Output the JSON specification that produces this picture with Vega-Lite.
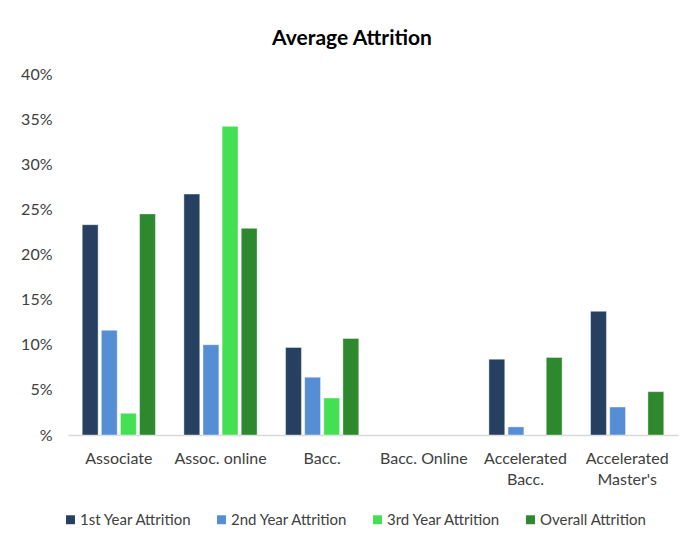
{
  "$schema": "https://vega.github.io/schema/vega-lite/v6.json",
  "autosize": "none",
  "width": 610,
  "height": 361,
  "padding": {"left": 68, "top": 74, "right": 13, "bottom": 109},
  "background": "white",
  "title": {
    "text": "Average Attrition",
    "font": "Lato",
    "fontSize": 21,
    "fontWeight": "bold",
    "color": "#000000",
    "anchor": "middle",
    "dx": -21,
    "offset": 17
  },
  "data": {
    "values": [
      {"program": "Associate", "series": "1st Year Attrition", "value": 0.233},
      {"program": "Associate", "series": "2nd Year Attrition", "value": 0.116},
      {"program": "Associate", "series": "3rd Year Attrition", "value": 0.024},
      {"program": "Associate", "series": "Overall Attrition", "value": 0.245},
      {"program": "Assoc. online", "series": "1st Year Attrition", "value": 0.267},
      {"program": "Assoc. online", "series": "2nd Year Attrition", "value": 0.100},
      {"program": "Assoc. online", "series": "3rd Year Attrition", "value": 0.342},
      {"program": "Assoc. online", "series": "Overall Attrition", "value": 0.229},
      {"program": "Bacc.", "series": "1st Year Attrition", "value": 0.097},
      {"program": "Bacc.", "series": "2nd Year Attrition", "value": 0.064},
      {"program": "Bacc.", "series": "3rd Year Attrition", "value": 0.041},
      {"program": "Bacc.", "series": "Overall Attrition", "value": 0.107},
      {"program": "Accelerated Bacc.", "series": "1st Year Attrition", "value": 0.084},
      {"program": "Accelerated Bacc.", "series": "2nd Year Attrition", "value": 0.009},
      {"program": "Accelerated Bacc.", "series": "Overall Attrition", "value": 0.086},
      {"program": "Accelerated Master's", "series": "1st Year Attrition", "value": 0.137},
      {"program": "Accelerated Master's", "series": "2nd Year Attrition", "value": 0.031},
      {"program": "Accelerated Master's", "series": "Overall Attrition", "value": 0.048}
    ]
  },
  "mark": {"type": "bar", "stroke": "#ffffff", "strokeOpacity": 0.5, "strokeWidth": 0.8},
  "encoding": {
    "x": {
      "field": "program",
      "type": "nominal",
      "sort": null,
      "title": null,
      "scale": {
        "domain": ["Associate", "Assoc. online", "Bacc.", "Bacc. Online", "Accelerated Bacc.", "Accelerated Master's"],
        "paddingInner": 0.28,
        "paddingOuter": 0.14
      },
      "axis": {
        "labelAngle": 0,
        "labelFont": "Lato",
        "labelFontSize": 16,
        "labelColor": "#404040",
        "labelPadding": 15,
        "labelLineHeight": 21,
        "labelExpr": "indexof(datum.label, 'Accelerated') == 0 ? ['Accelerated', substring(datum.label, 12)] : datum.label",
        "ticks": false,
        "domainColor": "#d9d9d9",
        "domainWidth": 1.5,
        "grid": false
      }
    },
    "xOffset": {
      "field": "series",
      "type": "nominal",
      "scale": {
        "domain": ["1st Year Attrition", "2nd Year Attrition", "3rd Year Attrition", "Overall Attrition"],
        "paddingInner": 0.17,
        "paddingOuter": 0
      }
    },
    "y": {
      "field": "value",
      "type": "quantitative",
      "title": null,
      "scale": {"domain": [0, 0.4], "nice": false},
      "axis": {
        "values": [0, 0.05, 0.1, 0.15, 0.2, 0.25, 0.3, 0.35, 0.4],
        "format": ".0%",
        "labelExpr": "datum.value == 0 ? '%' : datum.label",
        "labelFont": "Lato",
        "labelFontSize": 16,
        "labelColor": "#404040",
        "labelPadding": 16,
        "domain": false,
        "ticks": false,
        "grid": false
      }
    },
    "color": {
      "field": "series",
      "type": "nominal",
      "scale": {
        "domain": ["1st Year Attrition", "2nd Year Attrition", "3rd Year Attrition", "Overall Attrition"],
        "range": ["#254061", "#558ED5", "#44E054", "#2D882E"]
      },
      "legend": {
        "title": null,
        "orient": "none",
        "direction": "horizontal",
        "legendX": -5,
        "legendY": 438,
        "symbolType": "square",
        "symbolSize": 80,
        "symbolStrokeWidth": 0,
        "labelFont": "Lato",
        "labelFontSize": 15,
        "labelColor": "#404040",
        "labelOffset": 2,
        "columnPadding": 22
      }
    }
  },
  "config": {
    "view": {"stroke": null}
  }
}
